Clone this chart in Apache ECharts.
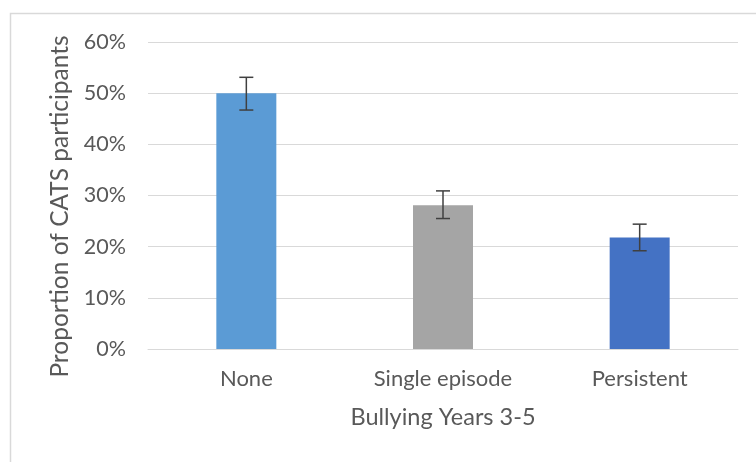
<!DOCTYPE html>
<html>
<head>
<meta charset="utf-8">
<script src="https://cdn.jsdelivr.net/npm/echarts@6/dist/echarts.min.js"></script>
<style>html,body{margin:0;padding:0;background:#fff;}#c{width:756px;height:462px;}</style>
</head>
<body>
<div id="c"></div>
<script>
var categories = ['None', 'Single episode', 'Persistent'];
var values = [0.50, 0.281, 0.218];
var errLow = [0.467, 0.255, 0.192];
var errHigh = [0.531, 0.309, 0.244];
var barColors = ['#5B9BD5', '#A5A5A5', '#4472C4'];
var yTicks = [0, 0.1, 0.2, 0.3, 0.4, 0.5, 0.6];

var font = 'Lato, "Open Sans", sans-serif';
var chart = echarts.init(document.getElementById('c'), null, {renderer: 'canvas'});
chart.setOption({
  animation: false,
  backgroundColor: '#fff',
  graphic: [{
    type: 'rect', shape: {x: 10.5, y: 13.5, width: 800, height: 500},
    style: {fill: 'none', stroke: '#d9d9d9', lineWidth: 1.5}, silent: true
  }],
  grid: {left: 148, right: 18, top: 42, bottom: 113},
  xAxis: {
    type: 'category', data: categories,
    axisLine: {show: true, lineStyle: {color: '#d9d9d9', width: 1}},
    axisTick: {show: false},
    axisLabel: {color: '#595959', fontSize: 22, fontFamily: font, margin: 19},
    name: 'Bullying Years 3-5', nameLocation: 'middle', nameGap: 56,
    nameTextStyle: {color: '#595959', fontSize: 23.5, fontFamily: font}
  },
  yAxis: {
    type: 'value', min: yTicks[0], max: yTicks[yTicks.length - 1], interval: 0.1,
    axisLine: {show: false}, axisTick: {show: false},
    splitLine: {lineStyle: {color: '#d9d9d9', width: 1}},
    axisLabel: {color: '#595959', fontSize: 21.5, fontFamily: font, margin: 22,
      formatter: function (v) { return Math.round(v * 100) + '%'; }},
    name: 'Proportion of CATS participants', nameLocation: 'middle', nameGap: 74,
    nameTextStyle: {color: '#595959', fontSize: 24.5, fontFamily: font, padding: [0, 22, 0, 0]}
  },
  series: [{
    type: 'bar', barWidth: 60,
    data: values.map(function (v, i) { return {value: v, itemStyle: {color: barColors[i]}}; })
  }, {
    type: 'custom',
    data: categories.map(function (c, i) { return [i, errLow[i], errHigh[i]]; }),
    renderItem: function (params, api) {
      var lo = api.coord([api.value(0), api.value(1)]);
      var hi = api.coord([api.value(0), api.value(2)]);
      var hw = 7;
      var st = {stroke: '#404040', lineWidth: 1.5};
      return {type: 'group', children: [
        {type: 'line', shape: {x1: lo[0], y1: lo[1], x2: hi[0], y2: hi[1]}, style: st},
        {type: 'line', shape: {x1: lo[0] - hw, y1: lo[1], x2: lo[0] + hw, y2: lo[1]}, style: st},
        {type: 'line', shape: {x1: hi[0] - hw, y1: hi[1], x2: hi[0] + hw, y2: hi[1]}, style: st}
      ]};
    },
    z: 10
  }]
});
</script>
</body>
</html>
